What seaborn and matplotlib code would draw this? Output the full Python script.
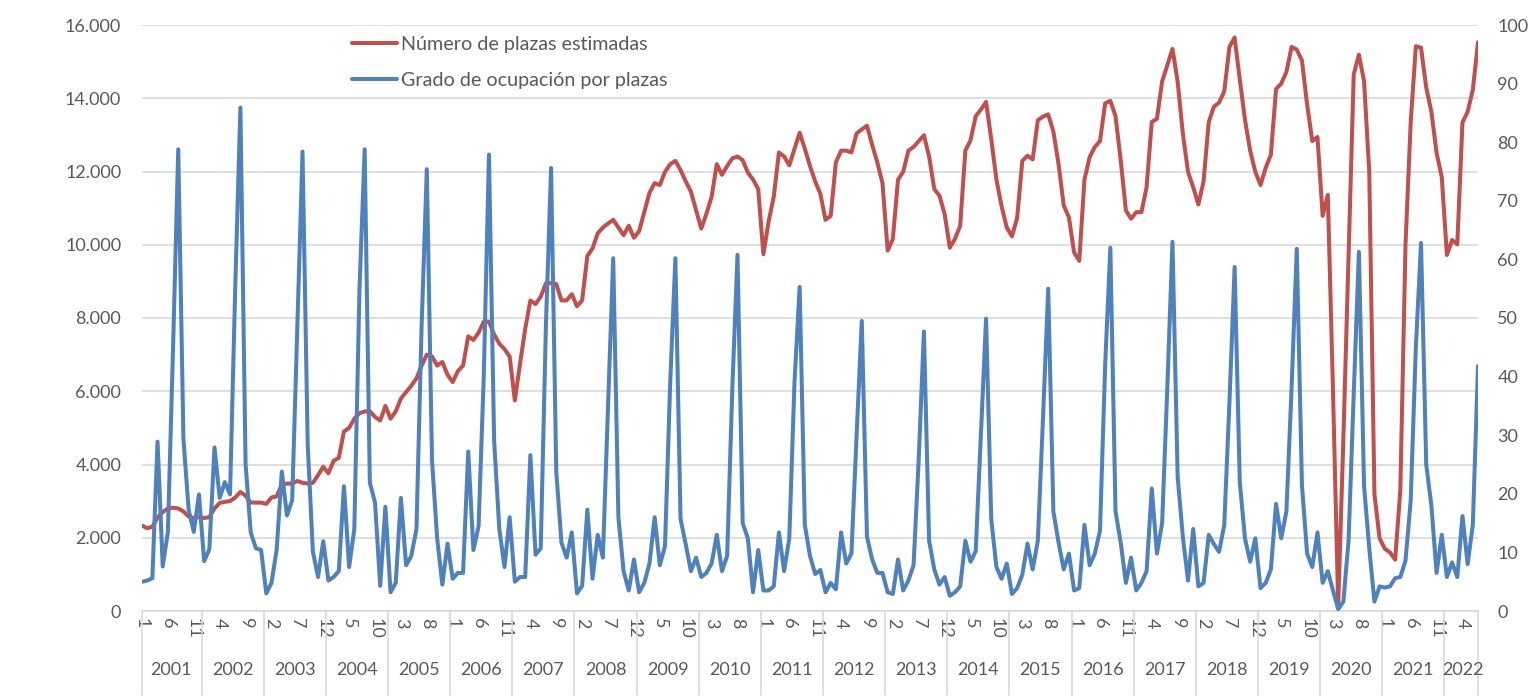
import numpy as np
import pandas as pd
import matplotlib
matplotlib.use("Agg")
import matplotlib.pyplot as plt
import matplotlib.transforms as mtransforms
from matplotlib.lines import Line2D
import seaborn as sns

# Monthly series, January 2001 - July 2022
years = ["2001", "2002", "2003", "2004", "2005", "2006", "2007", "2008", "2009", "2010", "2011",
         "2012", "2013", "2014", "2015", "2016", "2017", "2018", "2019", "2020", "2021", "2022"]
months_per_year = [12] * 21 + [7]

plazas = [
    2330, 2260, 2300, 2550, 2700, 2800, 2820, 2800, 2720, 2580, 2540, 2560,          # 2001
    2540, 2560, 2800, 2950, 2980, 3000, 3100, 3250, 3150, 2960, 2960, 2960,          # 2002
    2925, 3100, 3130, 3450, 3480, 3480, 3550, 3500, 3480, 3500, 3710, 3940,          # 2003
    3760, 4100, 4180, 4900, 5000, 5250, 5400, 5450, 5450, 5300, 5200, 5600,          # 2004
    5250, 5450, 5800, 5980, 6150, 6350, 6700, 7000, 6950, 6700, 6800, 6450,          # 2005
    6250, 6550, 6700, 7500, 7400, 7600, 7900, 7900, 7550, 7300, 7150, 6950,          # 2006
    5750, 6750, 7700, 8480, 8380, 8580, 8950, 8950, 8930, 8480, 8480, 8650,          # 2007
    8320, 8480, 9690, 9900, 10310, 10470, 10580, 10680, 10470, 10260, 10520, 10190,  # 2008
    10370, 10890, 11420, 11680, 11630, 11990, 12200, 12290, 12040, 11730, 11450, 10940,  # 2009
    10440, 10850, 11310, 12200, 11910, 12150, 12360, 12410, 12310, 11970, 11780, 11520,  # 2010
    9740, 10630, 11310, 12520, 12410, 12170, 12620, 13060, 12620, 12150, 11730, 11390,   # 2011
    10680, 10790, 12250, 12570, 12570, 12520, 13040, 13150, 13250, 12730, 12250, 11680,  # 2012
    9840, 10160, 11780, 11990, 12570, 12670, 12830, 12990, 12410, 11520, 11340, 10840,   # 2013
    9920, 10160, 10520, 12570, 12850, 13510, 13690, 13900, 12880, 11780, 11050, 10470,   # 2014
    10230, 10730, 12290, 12430, 12330, 13400, 13500, 13560, 13090, 12200, 11070, 10750,  # 2015
    9790, 9560, 11780, 12390, 12670, 12830, 13860, 13930, 13510, 12310, 10940, 10710,    # 2016
    10890, 10890, 11570, 13350, 13440, 14460, 14900, 15350, 14450, 13040, 11990, 11570,  # 2017
    11100, 11730, 13350, 13770, 13880, 14190, 15400, 15660, 14510, 13410, 12570, 11990,  # 2018
    11630, 12100, 12460, 14250, 14400, 14720, 15400, 15330, 15030, 13830, 12830, 12940,  # 2019
    10790, 11360, 6000, 150, 4700, 9700, 14650, 15190, 14460, 11990, 3190, 1980,         # 2020
    1700, 1600, 1400, 3300, 10000, 13340, 15420, 15380, 14290, 13630, 12510, 11850,      # 2021
    9720, 10130, 10010, 13340, 13630, 14230, 15530,                                      # 2022
]

ocupacion = [
    5.0, 5.2, 5.6, 28.9, 7.6, 13.5, 45.0, 78.8, 29.4, 17.3, 13.5, 19.9,     # 2001
    8.5, 10.5, 27.9, 19.3, 22.0, 19.9, 55.0, 85.9, 25.1, 13.4, 10.7, 10.4,  # 2002
    3.0, 4.8, 10.4, 23.8, 16.3, 18.9, 48.7, 78.4, 28.4, 10.1, 5.8, 11.9,    # 2003
    5.2, 5.8, 6.8, 21.3, 7.5, 14.0, 55.0, 78.8, 21.9, 18.5, 4.3, 17.8,      # 2004
    3.2, 4.8, 19.3, 7.8, 9.4, 14.0, 48.7, 75.4, 25.8, 12.4, 4.5, 11.5,      # 2005
    5.5, 6.5, 6.5, 27.2, 10.4, 14.5, 40.0, 77.9, 29.1, 14.0, 7.5, 16.0,     # 2006
    5.0, 5.8, 5.8, 26.6, 9.6, 10.7, 48.7, 75.6, 23.8, 11.7, 9.1, 13.4,      # 2007
    3.0, 4.3, 17.3, 5.5, 13.0, 9.1, 35.0, 60.2, 16.0, 6.8, 3.5, 8.8,        # 2008
    3.2, 4.8, 8.1, 16.0, 7.8, 11.1, 38.9, 60.2, 15.7, 11.4, 6.8, 9.1,       # 2009
    5.8, 6.5, 8.1, 13.0, 6.8, 9.4, 38.0, 60.8, 15.0, 12.4, 3.2, 10.4,       # 2010
    3.5, 3.5, 4.2, 13.4, 6.8, 12.4, 38.9, 55.3, 14.7, 9.4, 6.3, 7.0,        # 2011
    3.2, 4.8, 3.7, 13.4, 8.1, 9.8, 30.0, 49.5, 12.7, 8.8, 6.5, 6.5,         # 2012
    3.2, 2.9, 8.8, 3.5, 5.2, 7.8, 26.0, 47.7, 12.0, 7.1, 4.5, 5.8,          # 2013
    2.6, 3.2, 4.2, 12.0, 8.4, 10.2, 30.0, 49.9, 15.7, 7.5, 5.5, 8.1,        # 2014
    2.9, 3.9, 6.2, 11.5, 7.1, 12.0, 33.0, 55.0, 17.0, 11.7, 7.1, 9.8,       # 2015
    3.5, 3.9, 14.7, 7.8, 9.8, 13.7, 42.0, 62.0, 17.0, 11.7, 4.8, 9.1,       # 2016
    3.5, 4.8, 6.8, 20.9, 9.8, 15.0, 38.0, 63.0, 22.9, 12.7, 5.2, 14.0,      # 2017
    4.2, 4.8, 13.0, 11.4, 10.1, 14.7, 35.6, 58.7, 21.9, 12.4, 8.4, 12.4,    # 2018
    3.9, 4.8, 7.1, 18.3, 12.4, 17.0, 38.0, 61.8, 21.5, 9.8, 7.5, 13.4,      # 2019
    4.8, 6.8, 3.5, 0.3, 1.6, 12.0, 37.0, 61.3, 21.3, 10.7, 1.6, 4.2,        # 2020
    4.0, 4.2, 5.6, 5.8, 8.6, 18.8, 45.0, 62.8, 25.0, 18.0, 6.5, 13.0,       # 2021
    5.8, 8.3, 5.8, 16.2, 8.0, 14.7, 41.8,                                   # 2022
]

label_plazas = "Número de plazas estimadas"
label_ocup = "Grado de ocupación por plazas"
left_ticks = [0, 2000, 4000, 6000, 8000, 10000, 12000, 14000, 16000]
right_ticks = [0, 10, 20, 30, 40, 50, 60, 70, 80, 90, 100]

# month number of every point, built from the year lengths
month_num = [m + 1 for n in months_per_year for m in range(n)]
pos = np.arange(len(plazas))
df = pd.DataFrame({"pos": pos, "plazas": plazas, "ocupacion": ocupacion})

RED = "#C0504D"
BLUE = "#4F81BD"
GRID = "#D9D9D9"
TXT = "#595959"
FS = 13
FS_LEG = 14.2

sns.set_style("white")
plt.rcParams["font.family"] = ["Lato", "DejaVu Sans"]

W, H = 1533, 698
fig = plt.figure(figsize=(W / 100, H / 100), dpi=100)
x0, x1, y0, y1 = 142, 1478, 25, 611
ax = fig.add_axes([x0 / W, 1 - y1 / H, (x1 - x0) / W, (y1 - y0) / H])

sns.lineplot(data=df, x="pos", y="plazas", ax=ax, color=RED, linewidth=2.9,
             legend=False, solid_joinstyle="round", solid_capstyle="round")
ax2 = ax.twinx()
sns.lineplot(data=df, x="pos", y="ocupacion", ax=ax2, color=BLUE, linewidth=2.9,
             legend=False, solid_joinstyle="round", solid_capstyle="round")

ax.set_xlim(0, len(plazas) - 1)
ax.set_ylim(0, 16000)
ax2.set_ylim(0, 100)
ax.set_xlabel("")
ax.set_ylabel("")
ax2.set_ylabel("")

# gridlines on the primary scale
ax.set_yticks(left_ticks)
ax.set_yticklabels([f"{v:,}".replace(",", ".") for v in left_ticks])
ax.yaxis.grid(True, color=GRID, linewidth=1.2)
ax.set_axisbelow(True)
ax2.set_yticks(right_ticks)
ax2.set_yticklabels([str(v) for v in right_ticks])
ax2.grid(False)

for a in (ax, ax2):
    for s in a.spines.values():
        s.set_visible(False)
ax.spines["bottom"].set_visible(True)
ax.spines["bottom"].set_color(GRID)
ax.spines["bottom"].set_linewidth(1.2)

ax.tick_params(axis="y", length=0, pad=15, labelsize=FS, labelcolor=TXT)
ax2.tick_params(axis="y", length=0, pad=14, labelsize=FS, labelcolor=TXT)

# month labels every five points
tick_pos = pos[::5]
ax.set_xticks(tick_pos)
ax.set_xticklabels([str(month_num[i]) for i in tick_pos], rotation=-90)
ax.tick_params(axis="x", length=0, pad=5, labelsize=FS, labelcolor=TXT)

# year labels and group separators under the axis
trans = mtransforms.blended_transform_factory(ax.transData, ax.transAxes)
bottom_y = -(H - 3 - y1) / (y1 - y0)
year_y = -(670 - y1) / (y1 - y0)
start = 0
bounds = [0]
for yr, n in zip(years, months_per_year):
    end = start + n - 1
    ax.text((start + end) / 2, year_y, yr, transform=trans, ha="center", va="center",
            fontsize=FS, color=TXT)
    start += n
    bounds.append(start - 0.5)
bounds[-1] = len(plazas) - 1
for b in bounds:
    ax.plot([b, b], [0, bottom_y], transform=trans, color=GRID, linewidth=1.2,
            clip_on=False)

handles = [Line2D([], [], color=RED, linewidth=2.9),
           Line2D([], [], color=BLUE, linewidth=2.9)]
leg = ax2.legend(handles, [label_plazas, label_ocup], loc="upper left",
                 bbox_to_anchor=(352 / W, 1 - 36 / H), bbox_transform=fig.transFigure,
                 frameon=False, fontsize=FS_LEG, handlelength=2.3, handletextpad=0.2,
                 labelspacing=0.95, borderpad=0, borderaxespad=0)
for t in leg.get_texts():
    t.set_color(TXT)

fig.savefig("out.png", dpi=100, facecolor="white")
